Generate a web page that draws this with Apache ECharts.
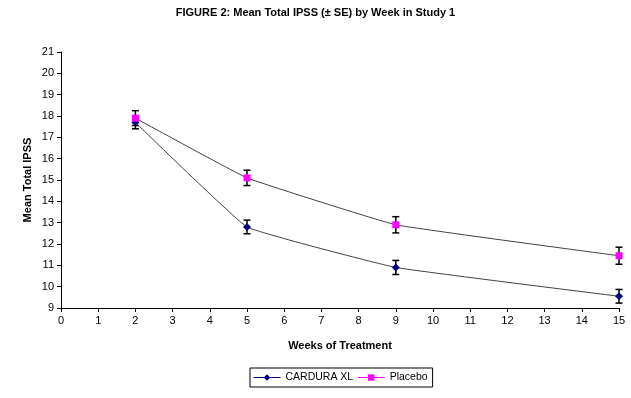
<!DOCTYPE html>
<html>
<head>
<meta charset="utf-8">
<script src="https://cdn.jsdelivr.net/npm/echarts@6/dist/echarts.min.js"></script>
<style>
  html, body { margin: 0; padding: 0; background: #fff; }
  #chart { width: 631px; height: 398px; }
</style>
</head>
<body>
<div id="chart"></div>
<script>
const weeks = [2, 5, 9, 15]
const cardura = [17.7, 12.8, 10.9, 9.55]
const carduraSE = [0.3, 0.32, 0.33, 0.32]
const placebo = [17.9, 15.1, 12.9, 11.45]
const placeboSE = [0.35, 0.36, 0.38, 0.4]

const font = 'Arial, "Liberation Sans", sans-serif'

function errorSeries (name, vals, se) {
  return {
    name: name + ' SE',
    type: 'custom',
    data: weeks.map((w, i) => [w, vals[i] - se[i], vals[i] + se[i]]),
    z: 3,
    renderItem: function (params, api) {
      const lo = api.coord([api.value(0), api.value(1)])
      const hi = api.coord([api.value(0), api.value(2)])
      const cap = 3.5
      const style = { stroke: '#000', lineWidth: 1.5 }
      return {
        type: 'group',
        children: [
          { type: 'line', shape: { x1: lo[0], y1: lo[1], x2: hi[0], y2: hi[1] }, style: style },
          { type: 'line', shape: { x1: lo[0] - cap, y1: lo[1], x2: lo[0] + cap, y2: lo[1] }, style: style },
          { type: 'line', shape: { x1: hi[0] - cap, y1: hi[1], x2: hi[0] + cap, y2: hi[1] }, style: style }
        ]
      }
    }
  }
}

const chart = echarts.init(document.getElementById('chart'))
chart.setOption({
  animation: false,
  title: {
    text: 'FIGURE 2: Mean Total IPSS (± SE) by Week in Study 1',
    left: 'center',
    top: 2,
    textStyle: { fontFamily: font, fontSize: 11, fontWeight: 'bold', color: '#000' }
  },
  legend: {
    top: 368,
    left: 250,
    borderColor: '#000',
    borderWidth: 1,
    borderRadius: 0,
    padding: [4, 5, 4, 3],
    itemGap: 4,
    itemWidth: 27,
    itemHeight: 8,
    textStyle: { fontFamily: font, fontSize: 10.5, color: '#000' },
    data: [
      { name: 'CARDURA XL', lineStyle: { color: '#000080', width: 1 } },
      { name: 'Placebo', lineStyle: { color: '#ff00ff', width: 1 } }
    ]
  },
  grid: { left: 61, right: 12, top: 52, bottom: 90 },
  xAxis: {
    type: 'value',
    min: 0,
    max: 15,
    interval: 1,
    name: 'Weeks of Treatment',
    nameLocation: 'middle',
    nameGap: 32,
    nameMoveOverlap: false,
    nameTextStyle: { fontFamily: font, fontSize: 11, fontWeight: 'bold', color: '#000' },
    axisLine: { lineStyle: { color: '#000', width: 1 } },
    axisTick: { show: true, length: 4, lineStyle: { color: '#000' } },
    axisLabel: { fontFamily: font, fontSize: 11, color: '#000', margin: 7 },
    splitLine: { show: false }
  },
  yAxis: {
    type: 'value',
    min: 9,
    max: 21,
    interval: 1,
    name: 'Mean Total IPSS',
    nameLocation: 'middle',
    nameGap: 28,
    nameMoveOverlap: false,
    nameTextStyle: { fontFamily: font, fontSize: 11, fontWeight: 'bold', color: '#000' },
    axisLine: { show: true, lineStyle: { color: '#000', width: 1 } },
    axisTick: { show: true, length: 4, lineStyle: { color: '#000' } },
    axisLabel: { fontFamily: font, fontSize: 11, color: '#000', margin: 7 },
    splitLine: { show: false }
  },
  series: [
    {
      name: 'CARDURA XL',
      type: 'line',
      data: weeks.map((w, i) => [w, cardura[i]]),
      smooth: 0.08,
      symbol: 'diamond',
      symbolSize: 8,
      z: 4,
      lineStyle: { color: '#404040', width: 1 },
      itemStyle: { color: '#000080' }
    },
    {
      name: 'Placebo',
      type: 'line',
      data: weeks.map((w, i) => [w, placebo[i]]),
      smooth: 0.08,
      symbol: 'rect',
      symbolSize: 7,
      z: 4,
      lineStyle: { color: '#404040', width: 1 },
      itemStyle: { color: '#ff00ff' }
    },
    errorSeries('CARDURA XL', cardura, carduraSE),
    errorSeries('Placebo', placebo, placeboSE)
  ]
})
</script>
</body>
</html>
